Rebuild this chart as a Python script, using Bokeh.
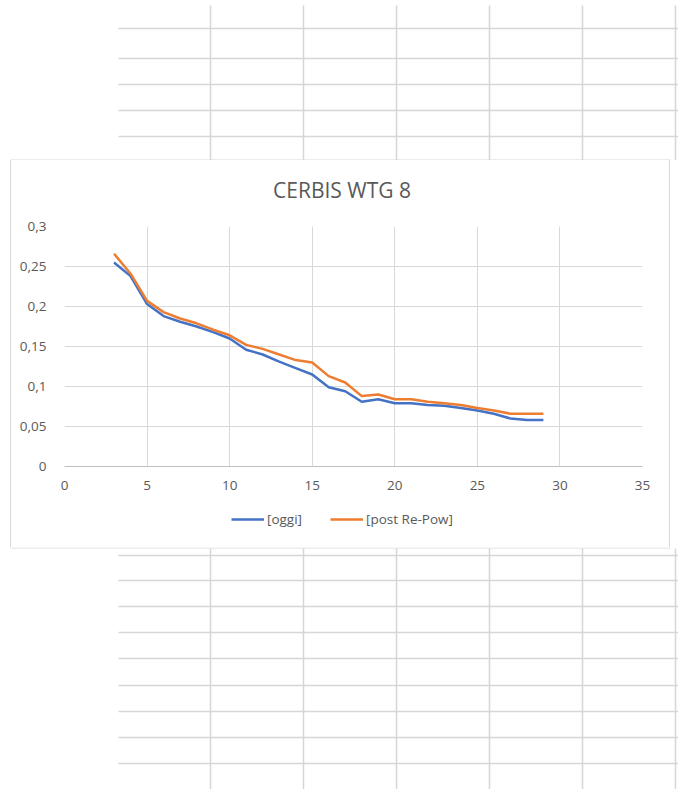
from bokeh.plotting import figure
from bokeh.models import Range1d, FixedTicker, Legend, LegendItem, Spacer, Label
from bokeh.layouts import column, row
from bokeh.embed import file_html
from bokeh.resources import INLINE

# ---- data ----
wind_speed = list(range(3, 30))
oggi = [0.255, 0.238, 0.203, 0.188, 0.181, 0.175, 0.168, 0.160, 0.146, 0.140,
        0.131, 0.123, 0.115, 0.099, 0.094, 0.081, 0.084, 0.079, 0.079, 0.077,
        0.076, 0.073, 0.070, 0.066, 0.060, 0.058, 0.058]
post_repow = [0.266, 0.241, 0.207, 0.193, 0.185, 0.179, 0.171, 0.164, 0.152, 0.147,
              0.140, 0.133, 0.130, 0.113, 0.105, 0.088, 0.090, 0.084, 0.084, 0.081,
              0.079, 0.077, 0.073, 0.070, 0.066, 0.066, 0.066]
series_names = ["[oggi]", "[post Re-Pow]"]
series_colors = ["#4472C4", "#ED7D31"]
x_ticks = [0, 5, 10, 15, 20, 25, 30, 35]
x_tick_labels = ["0", "5", "10", "15", "20", "25", "30", "35"]
y_ticks = [0, 0.05, 0.1, 0.15, 0.2, 0.25, 0.3]
y_tick_labels = ["0", "0,05", "0,1", "0,15", "0,2", "0,25", "0,3"]
title_text = "CERBIS WTG 8"

# ---- spreadsheet background (decoration, page pixel coordinates) ----
SHEET_COLS = [210, 303, 396, 489, 582, 675]
SHEET_ROWS_TOP = [28, 58, 84, 110, 136]
SHEET_ROWS_BOTTOM = [555, 580, 606, 632, 658, 685, 711, 737, 763]
SHEET_COLOR = "#d6d6d6"
BOX_COLOR = "#d9d9d9"
TEXT_COLOR = "#595959"
FONT = "Open Sans"


def sheet(height, y_top, y_bottom, rows, col_y0, col_y1, box_y):
    s = figure(width=678, height=height, x_range=Range1d(0, 678),
               y_range=Range1d(y_bottom, y_top), min_border=0,
               toolbar_location=None, output_backend="svg",
               x_axis_location=None, y_axis_location=None)
    s.grid.visible = False
    s.outline_line_color = None
    s.segment(x0=[118] * len(rows), x1=[678] * len(rows), y0=rows, y1=rows,
              line_color=SHEET_COLOR, line_width=1.5)
    n = len(SHEET_COLS)
    s.segment(x0=SHEET_COLS, x1=SHEET_COLS, y0=[col_y0] * n, y1=[col_y1] * n,
              line_color=SHEET_COLOR, line_width=1.5)
    # edge of the chart box
    s.segment(x0=[10], x1=[670], y0=[box_y], y1=[box_y], line_color=BOX_COLOR, line_width=1)
    return s


top = sheet(160, 0, 160, SHEET_ROWS_TOP, 5, 160, 159.5)
bottom = sheet(242, 547, 789, SHEET_ROWS_BOTTOM, 548, 789, 547.5)

# ---- title strip (top of the chart box; its frame is aligned with the chart's frame) ----
TITLE_H = 56
tt = figure(width=658, height=TITLE_H, x_range=Range1d(64, 642), y_range=Range1d(216, 160),
            toolbar_location=None, output_backend="svg", min_border=0,
            x_axis_location=None, y_axis_location=None)
tt.grid.visible = False
tt.outline_line_color = None
tt.border_fill_color = "white"
tt.add_layout(Label(x=341.5, y=189, text=title_text, text_align="center",
                    text_baseline="middle", text_font=FONT, text_font_size="21px",
                    text_color=TEXT_COLOR))

# ---- chart ----
CHART_H = 284
LEGEND_H = 47
p = figure(width=658, height=CHART_H, x_range=Range1d(0, 35), y_range=Range1d(0, 0.3),
           toolbar_location=None, output_backend="svg",
           min_border_left=53, min_border_right=27, min_border_top=10,
           min_border_bottom=34)
p.outline_line_color = None
p.background_fill_color = "white"
p.border_fill_color = "white"

p.xaxis.ticker = FixedTicker(ticks=x_ticks)
p.xaxis.major_label_overrides = dict(zip(x_ticks, x_tick_labels))
p.yaxis.ticker = FixedTicker(ticks=y_ticks)
p.yaxis.major_label_overrides = dict(zip(y_ticks, y_tick_labels))

for ax in (p.xaxis[0], p.yaxis[0]):
    ax.major_tick_line_color = None
    ax.minor_tick_line_color = None
    ax.major_label_text_font = FONT
    ax.major_label_text_font_size = "13.5px"
    ax.major_label_text_color = TEXT_COLOR
p.xaxis.axis_line_color = "#bfbfbf"
p.yaxis.axis_line_color = None
p.xaxis.major_label_standoff = 8
p.yaxis.major_label_standoff = 12

p.xgrid.grid_line_color = "#d9d9d9"
p.ygrid.grid_line_color = "#d9d9d9"

for vals, col in zip((oggi, post_repow), series_colors):
    p.line(wind_speed, vals, line_color=col, line_width=2.5)

# ---- legend strip (bottom of the chart box) ----
lg = figure(width=658, height=LEGEND_H, x_range=Range1d(100, 200), y_range=Range1d(0, 1),
            toolbar_location=None, output_backend="svg", min_border=0,
            x_axis_location=None, y_axis_location=None)
lg.grid.visible = False
lg.outline_line_color = None
lg.border_fill_color = "white"
legend_renderers = [lg.line(wind_speed, vals, line_color=col, line_width=2.5)
                    for vals, col in zip((oggi, post_repow), series_colors)]
legend = Legend(items=[LegendItem(label=n, renderers=[r])
                       for n, r in zip(series_names, legend_renderers)],
                orientation="horizontal", location=(167, 18))
legend.border_line_color = None
legend.background_fill_alpha = 0
legend.padding = 0
legend.margin = 0
legend.glyph_width = 33
legend.label_standoff = 3
legend.spacing = 28
legend.label_text_font = FONT
legend.label_text_font_size = "13.5px"
legend.label_text_color = TEXT_COLOR
lg.add_layout(legend, "center")

BOX_H = TITLE_H + CHART_H + LEGEND_H
chart_box = column(tt, p, lg)
edge_l = Spacer(width=1, height=BOX_H, styles={"background-color": BOX_COLOR})
edge_r = Spacer(width=1, height=BOX_H, styles={"background-color": BOX_COLOR})
chart_row = row(Spacer(width=10, height=BOX_H), edge_l, chart_box, edge_r,
                Spacer(width=8, height=BOX_H))

layout = column(top, chart_row, bottom)

open("out.html", "w").write(file_html(layout, INLINE))
